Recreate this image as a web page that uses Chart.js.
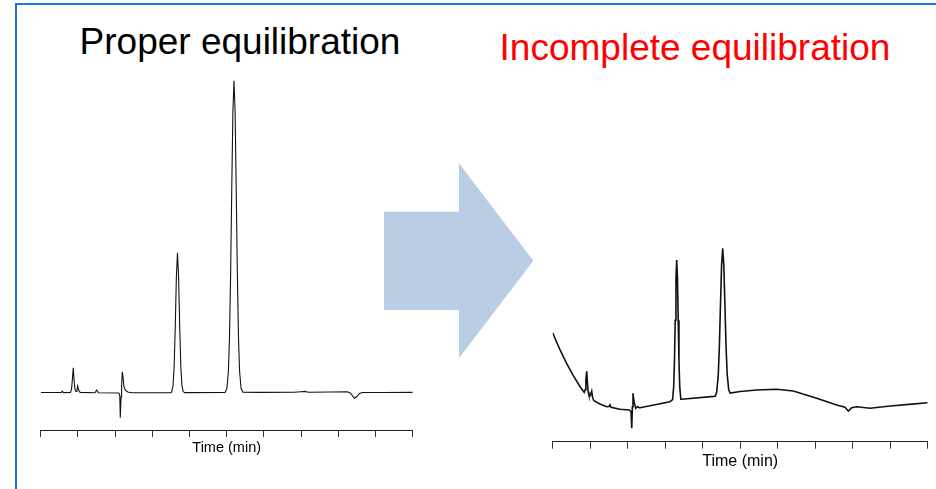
<!DOCTYPE html>
<html>
<head>
<meta charset="utf-8">
<script src="https://cdn.jsdelivr.net/npm/chart.js@4/dist/chart.umd.min.js"></script>
<style>
  html, body { margin: 0; padding: 0; background: #fff; overflow: hidden; }
  body { width: 936px; height: 489px; position: relative; font-family: "Liberation Sans", Arial, sans-serif; }
  .frame { position: absolute; left: 15px; top: 3px; width: 925px; height: 495px;
           border-top: 2px solid #1a78d2; border-left: 2px solid #1a78d2; }
  .title { position: absolute; width: 440px; text-align: center; font-size: 37px; line-height: 37px; white-space: nowrap; }
  #arrow { position: absolute; left: 0; top: 0; }
  canvas { position: absolute; }
</style>
</head>
<body>
<div class="frame"></div>
<div class="title" style="left:20px; top:23px; color:#000;">Proper equilibration</div>
<div class="title" style="left:475px; top:29px; color:#ff0000;">Incomplete equilibration</div>

<svg id="arrow" width="936" height="489">
  <polygon points="384,211.7 459,211.7 459,163.3 533.3,260.7 459,358.3 459,310 384,310" fill="#b9cde5"/>
</svg>

<canvas id="proper" width="400" height="400" style="left:30px; top:60px;"></canvas>
<canvas id="incomplete" width="396" height="260" style="left:540px; top:220px;"></canvas>

<script>
// Time axis (min) tick positions shared by both chromatograms
const timeTicks = [0, 1, 2, 3, 4, 5, 6, 7, 8, 9, 10];

// Chromatogram after proper column equilibration (detector signal, arbitrary units)
const properTime = [
  0, 0.55, 0.58, 0.61, 0.80, 0.83, 0.85, 0.876, 0.90, 0.925, 0.95, 0.975, 0.995, 1.02, 1.06,
  1.46, 1.505, 1.55,
  2.10, 2.125, 2.14, 2.16, 2.175, 2.194, 2.215, 2.24, 2.28, 2.34, 2.45,
  3.50, 3.52, 3.557, 3.587, 3.617, 3.647, 3.677, 3.707, 3.737, 3.767, 3.797, 3.83, 3.87,
  4.956, 5.006, 5.046, 5.076, 5.106, 5.136, 5.166, 5.196, 5.226, 5.256, 5.286, 5.316, 5.346, 5.386, 5.436,
  5.9, 6.8, 7.0, 7.1, 7.2, 7.8, 8.25, 8.33, 8.43, 8.50, 8.57, 8.65, 9.2, 10
];
const properSignal = [
  37.5, 37.5, 38.8, 37.4, 37.6, 41, 50, 62.3, 48, 40, 38.5, 40, 44, 40, 37.6,
  37.3, 40, 37.2,
  37.0, 35, 12.3, 33, 45, 58.3, 52, 43, 39.5, 38, 37.3,
  37.3, 38, 44.3, 63, 103, 153, 177.3, 153, 103, 63, 44.3, 38.5, 37.4,
  37.5, 41.7, 59, 94, 157, 241, 318, 349.3, 318, 241, 157, 94, 59, 41.7, 37.8,
  37.6, 37.8, 38.3, 38.6, 37.8, 38, 38.2, 36.8, 31.7, 33.5, 36.5, 37.5, 37.5, 37.6
];

// Chromatogram with incomplete equilibration: drifting baseline, shifted peaks
const incompleteTime = [
  0, 0.1, 0.2, 0.37, 0.55, 0.73, 0.84, 0.865, 0.885, 0.907, 0.925, 0.945, 0.965, 1.00, 1.04, 1.065, 1.10,
  1.26, 1.44, 1.50, 1.528, 1.555, 1.795, 2.04,
  2.09, 2.107, 2.125, 2.141, 2.17, 2.213, 2.266, 2.30, 2.33, 3.128,
  3.197, 3.227, 3.247, 3.267, 3.287, 3.307, 3.327, 3.347, 3.367, 3.387, 3.417, 3.44,
  4.30, 4.333, 4.373, 4.413, 4.443, 4.473, 4.503, 4.533, 4.563, 4.593, 4.623, 4.653, 4.693, 4.733,
  5.0, 5.44, 5.973, 6.416, 7.04, 7.573, 7.795, 7.84, 7.883, 7.93, 7.973, 8.107, 8.461, 9.0, 9.5, 10
];
const incompleteSignal = [
  109, 100, 91.5, 78.4, 66, 55, 49.4, 52, 62, 70.3, 60, 50, 46.7, 46, 50.5, 44, 41,
  37.7, 35, 35.2, 36.9, 34.5, 32.4, 31.7,
  30, 13.4, 35, 48.4, 40, 33.4, 35.2, 34, 34, 40,
  42, 55.4, 80.8, 121.5, 163.4, 181.7, 163.4, 121.5, 80.8, 55.4, 42.5, 42.5,
  45.3, 45.5, 49.7, 65.5, 93.6, 135.3, 176.1, 193.4, 176.3, 136, 95, 67.5, 52, 48.6,
  50.2, 51.7, 52.4, 50.7, 43.4, 36.7, 34.4, 32.5, 30.7, 32.3, 34, 35, 33.4, 35.7, 37.3, 39
];

const FONT = '"Liberation Sans", Arial, sans-serif';

function chromatogram(canvasId, time, signal, cfg) {
  return new Chart(document.getElementById(canvasId), {
    type: 'line',
    data: {
      datasets: [{
        data: time.map((t, i) => ({ x: t, y: signal[i] })),
        borderColor: '#111',
        borderWidth: cfg.lineWidth,
        pointRadius: 0,
        tension: 0,
        fill: false
      }]
    },
    options: {
      responsive: false,
      animation: false,
      devicePixelRatio: 1,
      layout: { padding: cfg.padding },
      plugins: { legend: { display: false }, tooltip: { enabled: false } },
      scales: {
        x: {
          type: 'linear',
          min: timeTicks[0],
          max: timeTicks[timeTicks.length - 1],
          afterBuildTicks: (scale) => { scale.ticks = timeTicks.map(v => ({ value: v })); },
          afterFit: (scale) => { scale.height = cfg.axisHeight; },
          ticks: { display: false },
          grid: { drawOnChartArea: false, drawTicks: true, tickLength: 7, color: '#333', lineWidth: 1 },
          border: { display: true, color: '#222', width: 1 },
          title: {
            display: true,
            text: 'Time (min)',
            color: '#000',
            font: { family: FONT, size: cfg.labelSize },
            padding: 0
          }
        },
        y: { display: false, min: 0, max: cfg.yMax }
      }
    }
  });
}

chromatogram('proper', properTime, properSignal, {
  lineWidth: 1.1,
  padding: { left: 10.7, right: 17.3, top: 10, bottom: 3 },
  axisHeight: 27,
  labelSize: 14.5,
  yMax: 360
});

chromatogram('incomplete', incompleteTime, incompleteSignal, {
  lineWidth: 1.6,
  padding: { left: 12.7, right: 8.3, top: 11.7, bottom: 9.3 },
  axisHeight: 29,
  labelSize: 16,
  yMax: 210
});
</script>
</body>
</html>
